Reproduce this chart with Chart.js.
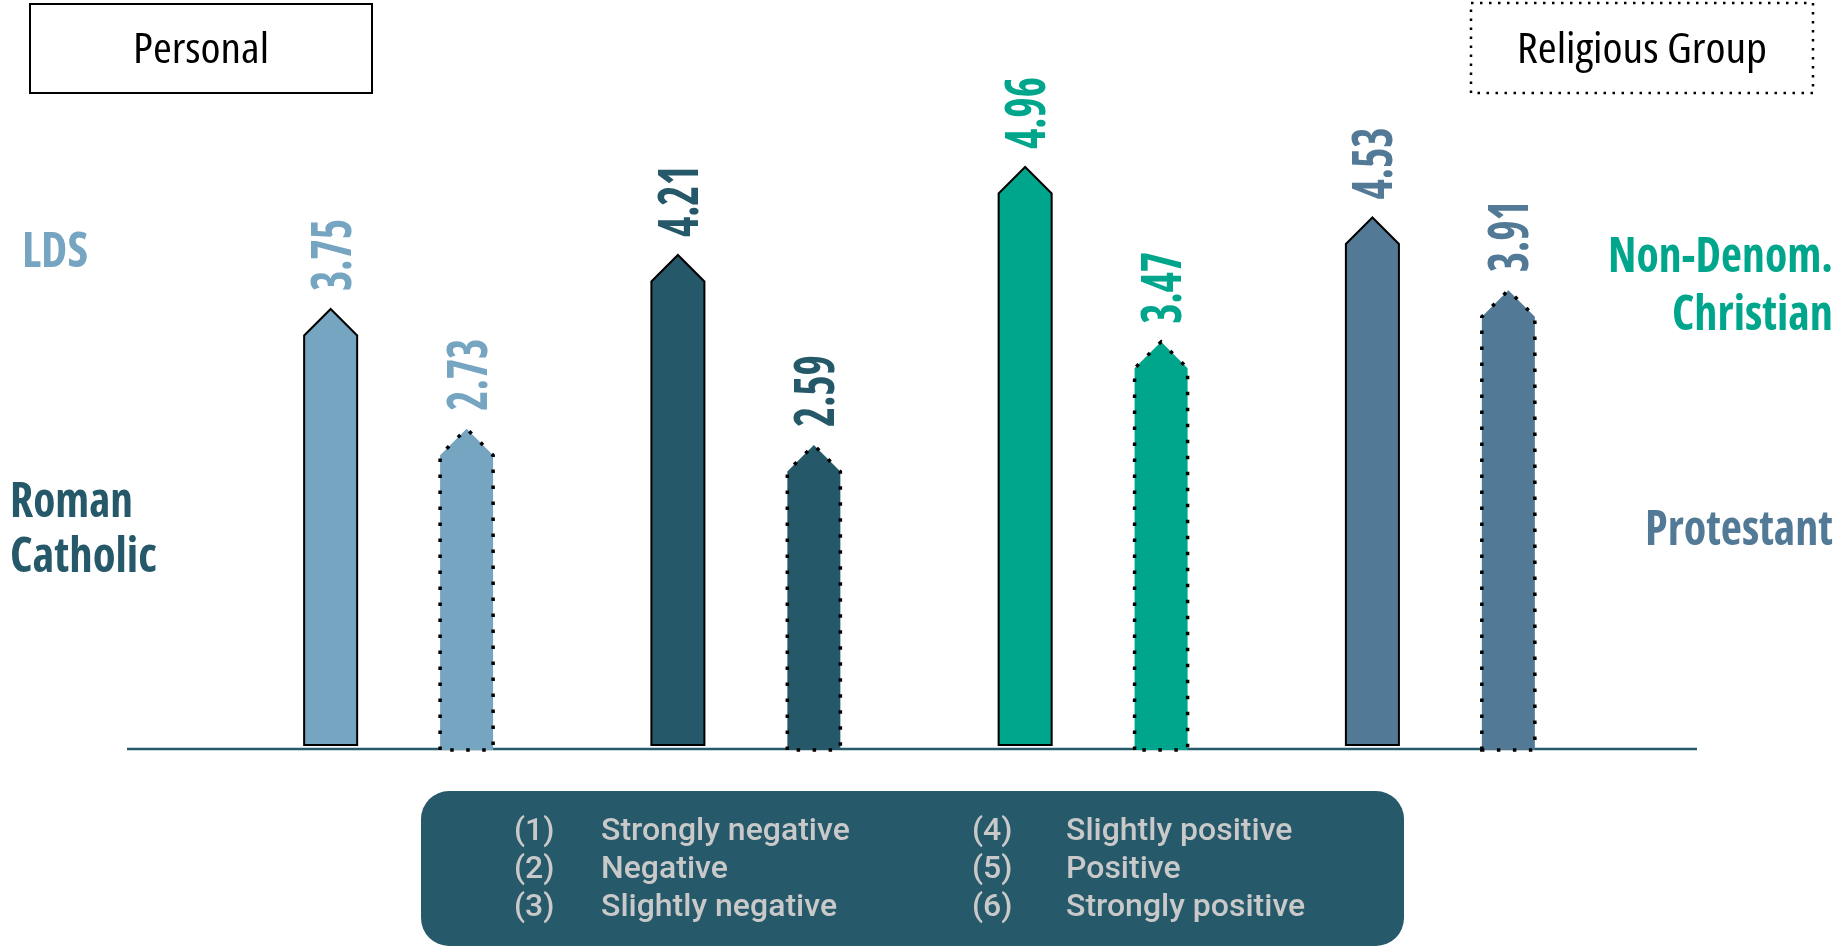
<!DOCTYPE html>
<html>
<head>
<meta charset="utf-8">
<script src="https://cdn.jsdelivr.net/npm/chart.js@4.4.1/dist/chart.umd.min.js"></script>
<style>
  html, body { margin: 0; padding: 0; background: #fff; }
  canvas { display: block; }
</style>
</head>
<body>
<canvas id="chart" width="1845" height="946"></canvas>
<script>
// Ortalama tutum puanları (1-6 ölçeği)
const groups = ['LDS', 'Roman Catholic', 'Non-Denom. Christian', 'Protestant'];
const personalScores = [3.75, 4.21, 4.96, 4.53];
const groupScores = [2.73, 2.59, 3.47, 3.91];
const groupColors = ['#76a5c2', '#255868', '#00a68c', '#527a96'];
const scaleNumbers = ['(1)', '(2)', '(3)', '(4)', '(5)', '(6)'];
const scaleLabels = ['Strongly negative', 'Negative', 'Slightly negative', 'Slightly positive', 'Positive', 'Strongly positive'];

const SANS = '"Open Sans", "Noto Sans", sans-serif';
const DARK = '#26596a';

// Metni yazar; genişlik verilirse yatayda o genişliğe sıkıştırır
function drawText(ctx, text, x, y, opts) {
    ctx.save();
    ctx.font = opts.font;
    ctx.fontStretch = opts.stretch || 'normal';
    ctx.fillStyle = opts.color;
    ctx.textBaseline = 'alphabetic';
    ctx.textAlign = 'left';
    const w = ctx.measureText(text).width;
    const sx = opts.width ? opts.width / w : 1;
    let left = x;
    if (opts.align === 'center') left = x - w * sx / 2;
    else if (opts.align === 'right') left = x - w * sx;
    ctx.translate(left, y);
    ctx.scale(sx, 1);
    ctx.fillText(text, 0, 0);
    ctx.restore();
}

// Ok uçlu sütun
function arrowPath(ctx, x, top, bottom, width) {
    const half = width / 2;
    ctx.beginPath();
    ctx.moveTo(x - half, bottom);
    ctx.lineTo(x - half, top + half);
    ctx.lineTo(x, top);
    ctx.lineTo(x + half, top + half);
    ctx.lineTo(x + half, bottom);
    ctx.closePath();
}

const arrowBars = {
    id: 'arrowBars',
    beforeDatasetsDraw(chart) {
        const { ctx, chartArea, scales } = chart;
        const y0 = scales.y.getPixelForValue(0);
        ctx.save();
        ctx.strokeStyle = DARK;
        ctx.lineWidth = 2.5;
        ctx.beginPath();
        ctx.moveTo(chartArea.left - 98, y0);
        ctx.lineTo(chartArea.right + 83, y0);
        ctx.stroke();
        ctx.restore();
    },
    afterDatasetsDraw(chart) {
        const ctx = chart.ctx;
        chart.data.datasets.forEach((ds, d) => {
            const meta = chart.getDatasetMeta(d);
            const dotted = d === 1;
            meta.data.forEach((bar, i) => {
                const { x, y, base, width } = bar.getProps(['x', 'y', 'base', 'width'], true);
                const color = groupColors[i];
                ctx.save();
                arrowPath(ctx, x, y, dotted ? base + 1 : base - 4, width);
                ctx.fillStyle = color;
                ctx.fill();
                ctx.strokeStyle = '#000';
                if (dotted) {
                    ctx.lineWidth = 3.5;
                    ctx.setLineDash([3.5, 12.5]);
                } else {
                    ctx.lineWidth = 2;
                }
                ctx.stroke();
                ctx.restore();

                // değer etiketi, dikey
                const label = ds.data[i].toFixed(2);
                ctx.save();
                ctx.translate(x, y - 18);
                ctx.rotate(-Math.PI / 2);
                ctx.font = '700 56px ' + SANS;
                ctx.fontStretch = 'condensed';
                const sx = 72 / ctx.measureText('0.00').width;
                ctx.scale(sx, 1);
                ctx.fillStyle = color;
                ctx.textAlign = 'left';
                ctx.textBaseline = 'alphabetic';
                ctx.fillText(label, 0, 20);
                ctx.restore();
            });
        });
    },
    afterDraw(chart) {
        const ctx = chart.ctx;

        // üst kutular
        ctx.save();
        ctx.strokeStyle = '#000';
        ctx.lineWidth = 2;
        ctx.strokeRect(30, 4, 342, 89);
        ctx.lineWidth = 2.5;
        ctx.setLineDash([2.5, 6.5]);
        ctx.strokeRect(1471, 3, 342, 90);
        ctx.restore();
        const narrow = 'condensed';
        drawText(ctx, 'Personal', 201, 63, { font: '42px ' + SANS, stretch: narrow, color: '#000', align: 'center', width: 136 });
        drawText(ctx, 'Religious Group', 1642, 63, { font: '42px ' + SANS, stretch: narrow, color: '#000', align: 'center', width: 250 });

        // grup adları
        const bold = '700 49px ' + SANS;
        drawText(ctx, 'LDS', 22, 267, { font: bold, stretch: narrow, color: groupColors[0], width: 66 });
        drawText(ctx, 'Roman', 10, 517, { font: bold, stretch: narrow, color: groupColors[1], width: 123 });
        drawText(ctx, 'Catholic', 10, 572, { font: bold, stretch: narrow, color: groupColors[1], width: 147 });
        drawText(ctx, 'Non-Denom.', 1833, 272, { font: bold, stretch: narrow, color: groupColors[2], align: 'right', width: 225 });
        drawText(ctx, 'Christian', 1833, 330, { font: bold, stretch: narrow, color: groupColors[2], align: 'right', width: 161 });
        drawText(ctx, 'Protestant', 1833, 545, { font: bold, stretch: narrow, color: groupColors[3], align: 'right', width: 188 });

        // ölçek açıklaması
        ctx.save();
        ctx.fillStyle = DARK;
        ctx.beginPath();
        ctx.roundRect(421, 791, 983, 155, 28);
        ctx.fill();
        ctx.restore();
        const legendFont = '500 32px Roboto, sans-serif';
        scaleNumbers.forEach((num, k) => {
            const col = Math.floor(k / 3);
            const row = k % 3;
            const yy = 840 + row * 38;
            drawText(ctx, num, col ? 972 : 514, yy, { font: legendFont, color: '#c9c9c9' });
            drawText(ctx, scaleLabels[k], col ? 1066 : 601, yy, { font: legendFont, color: '#c9c9c9' });
        });
    }
};

new Chart(document.getElementById('chart'), {
    type: 'bar',
    data: {
        labels: groups,
        datasets: [
            { label: 'Personal', data: personalScores, backgroundColor: 'transparent', borderWidth: 0 },
            { label: 'Religious Group', data: groupScores, backgroundColor: 'transparent', borderWidth: 0 }
        ]
    },
    options: {
        responsive: false,
        devicePixelRatio: 1,
        animation: false,
        categoryPercentage: 0.783,
        barPercentage: 0.39,
        layout: { padding: { left: 225, right: 231, top: 45, bottom: 197 } },
        plugins: {
            legend: { display: false },
            tooltip: { enabled: false }
        },
        scales: {
            x: { display: false },
            y: { display: false, min: 0, max: 6 }
        }
    },
    plugins: [arrowBars]
});
</script>
</body>
</html>
